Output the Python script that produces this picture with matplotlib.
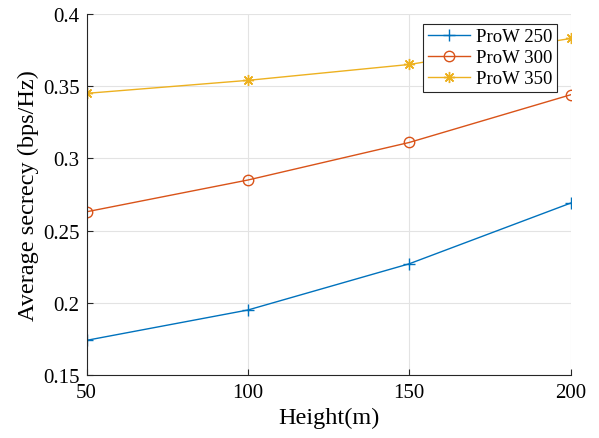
import matplotlib
matplotlib.use('Agg')
import matplotlib.pyplot as plt

# 数据
height = [50, 100, 150, 200]
prow_250 = [0.174, 0.195, 0.227, 0.269]
prow_300 = [0.263, 0.285, 0.311, 0.344]
prow_350 = [0.345, 0.354, 0.365, 0.383]
labels = ['ProW 250', 'ProW 300', 'ProW 350']

plt.rcParams['font.family'] = ['Liberation Serif', 'DejaVu Serif']

fig = plt.figure(figsize=(5.99, 4.39), dpi=100)
ax = fig.add_axes([0.1445, 0.1435, 0.808, 0.8225])

ax.plot(height, prow_250, color='#0072BD', marker='+', markersize=8, lw=1, label=labels[0])
ax.plot(height, prow_300, color='#D95319', marker='o', markersize=7.5, mfc='none', lw=1, label=labels[1])
ax.plot(height, prow_350, color='#EDB120', marker=(8, 2, 0), markersize=8, lw=1, label=labels[2])

ax.set_xlim(50, 200)
ax.set_ylim(0.15, 0.4)
ax.set_xticks([50, 100, 150, 200])
ax.set_yticks([0.15, 0.2, 0.25, 0.3, 0.35, 0.4])
ax.set_yticklabels(['0.15', '0.2', '0.25', '0.3', '0.35', '0.4'])
ax.grid(True, color='#e3e3e3', lw=0.8)
ax.set_axisbelow(True)
for s in ['top', 'right']:
    ax.spines[s].set_visible(False)
for s in ['left', 'bottom']:
    ax.spines[s].set_color('#262626')
ax.tick_params(direction='in', length=4, colors='#262626', labelsize=15, labelcolor='black')
ax.tick_params(axis='x', pad=6)
ax.tick_params(axis='y', pad=5)
ax.set_xlabel('Height(m)', fontsize=17.5, labelpad=3)
ax.set_ylabel('Average secrecy (bps/Hz)', fontsize=17.5, labelpad=3)

leg = ax.legend(loc='upper right', bbox_to_anchor=(0.972, 0.973), fontsize=13.5, fancybox=False,
                framealpha=1, edgecolor='#262626', borderpad=0.25, labelspacing=0.2,
                handlelength=2.25, handletextpad=0.3, borderaxespad=0)
leg.get_frame().set_linewidth(0.8)

fig.savefig('out.png', dpi=100)
